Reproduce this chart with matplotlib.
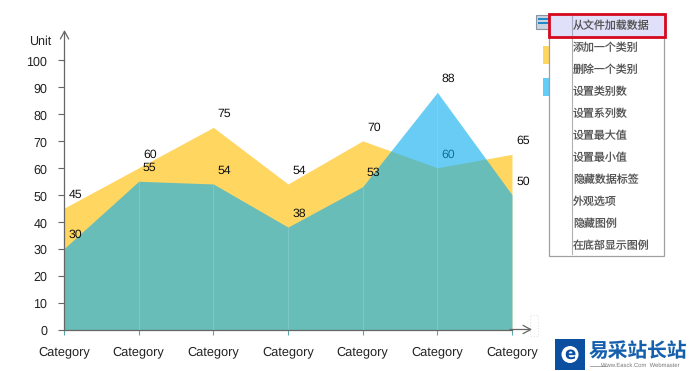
import matplotlib
matplotlib.use('Agg')
import matplotlib.pyplot as plt
from matplotlib.patches import Rectangle, Circle
from matplotlib.transforms import ScaledTranslation

plt.rcParams['font.family'] = ['Liberation Sans', 'DejaVu Sans']
plt.rcParams['text.hinting'] = 'none'

# 数据
categories = ['Category'] * 7
series_a = [45, 60, 75, 54, 70, 60, 65]
series_b = [30, 55, 54, 38, 53, 88, 50]
y_ticks = list(range(0, 101, 10))
menu_items = ['添加一个类别', '删除一个类别', '设置类别数', '设置系列数', '设置最大值',
              '设置最小值', '隐藏数据标签', '外观选项', '隐藏图例', '在底部显示图例']
CJK = ['Noto Sans CJK SC', 'DejaVu Sans']

W, H = 689, 371
fig = plt.figure(figsize=(W / 100, H / 100), dpi=100)

# 图表区域（像素换算）
left, right, top, bottom = 64, 512, 60, 329.5
ax = fig.add_axes([left / W, 1 - bottom / H, (right - left) / W, (bottom - top) / H])
x = list(range(len(categories)))

ax.fill_between(x, 0, series_a, color='#FFD660', lw=0, zorder=1)
for i, v in enumerate(series_a):
    ax.annotate(str(v), (i, v), xytext=(8, 9.7), textcoords='offset points', ha='center', va='center',
                fontsize=8.8, color='#111111', zorder=1.5, annotation_clip=False)
ax.fill_between(x, 0, series_b, color='#0BAEEF', alpha=0.62, lw=0, zorder=2)
ax.vlines(x, 0, series_b, color='#9ADCE6', lw=0.7, alpha=0.35, zorder=2.5)
for i, v in enumerate(series_b):
    ax.annotate(str(v), (i, v), xytext=(8, 9.7), textcoords='offset points', ha='center', va='center',
                fontsize=8.8, color='#111111', zorder=5, annotation_clip=False)

ax.set_xlim(0, 6)
ax.set_ylim(0, 100)
ax.set_xticks(x)
ax.set_xticklabels(categories, fontsize=9.2, color='#222222')
ax.set_yticks(y_ticks)
ax.tick_params(axis='y', labelsize=9, length=4.5, width=0.8, color='#666666', labelcolor='#222222', pad=7.5)
ax.tick_params(axis='x', length=3.5, width=0.8, color='#5AA8A8', pad=8.5)
# y 轴标签比刻度低 1 像素
shift = ScaledTranslation(0, -1 / 100, fig.dpi_scale_trans)
for lab in ax.get_yticklabels():
    lab.set_transform(lab.get_transform() + shift)
for s in ['top', 'right']:
    ax.spines[s].set_visible(False)
for s in ['left', 'bottom']:
    ax.spines[s].set_color('#666666')
    ax.spines[s].set_linewidth(0.9)
    ax.spines[s].set_zorder(4)
ax.patch.set_alpha(0)

# 覆盖层：坐标轴箭头、菜单、水印，用像素坐标
ov = fig.add_axes([0, 0, 1, 1], zorder=10)
ov.set_xlim(0, W)
ov.set_ylim(H, 0)
ov.axis('off')

arrow = dict(arrowstyle='->,head_length=0.55,head_width=0.3', color='#666666', lw=0.9, shrinkA=0, shrinkB=0)
ov.annotate('', xy=(64.5, 30), xytext=(64.5, 62), arrowprops=arrow)
ov.annotate('', xy=(532, 329.5), xytext=(510, 329.5), arrowprops=arrow)
ov.text(40, 41.5, 'Unit', fontsize=9, color='#222222', ha='center', va='center')
ov.add_patch(Rectangle((529.5, 314.5), 8, 21, fc='none', ec='#E4E4E4', lw=0.8, ls=':'))

# 图例色块（被菜单遮挡）
ov.add_patch(Rectangle((543, 46), 8, 18, fc='#FFD660', ec='none'))
ov.add_patch(Rectangle((543, 78), 8, 18, fc='#62CDF7', ec='none'))
# 菜单按钮
ov.add_patch(Rectangle((535.5, 14.5), 14, 14, fc='#C8D4E0', ec='#8A94A0', lw=0.8))
ov.add_patch(Rectangle((537.5, 18), 11, 2.2, fc='#1E88C8', ec='none'))
ov.add_patch(Rectangle((537.5, 22), 11, 2.2, fc='#1E88C8', ec='none'))

# 菜单
ov.add_patch(Rectangle((549, 14), 115, 242, fc='white', ec='#A0A0A0', lw=0.9, zorder=3))
ov.plot([571.5, 571.5], [14, 254], color='#B0B0B0', lw=0.8, zorder=3.2)
ov.add_patch(Rectangle((548.5, 14), 116, 22.5, fc='#E0E0FA', ec='#D5081E', lw=2.0, zorder=3.5))
ov.plot([571.5, 571.5], [16, 35], color='#A8A8C0', lw=0.8, zorder=3.6)
ov.text(573, 26, '从文件加载数据', fontsize=7.9, family=CJK, color='#555555', va='center', zorder=4)
for i, item in enumerate(menu_items):
    ov.text(573, 48 + i * 22, item, fontsize=7.9, family=CJK, color='#555555', va='center', zorder=4)

# 水印
ov.add_patch(Rectangle((555, 339), 30, 31, fc='#0B4FA0', ec='none'))
ov.add_patch(Circle((570, 354.5), 8.5, fc='white', ec='none'))
ov.text(570, 354, 'e', fontsize=12, fontweight='bold', color='#0B4FA0', ha='center', va='center', family='DejaVu Sans')
ov.text(589, 351, '易采站长站', fontsize=14.2, fontweight='bold', family=CJK, color='#1560AC', va='center')
ov.text(640, 365.5, 'Www.Easck.Com  Webmaster', fontsize=4.2, color='#777777', ha='center', va='center')
ov.plot([590, 606], [365.5, 365.5], color='#999999', lw=0.6)

fig.savefig('out.png', dpi=100)
